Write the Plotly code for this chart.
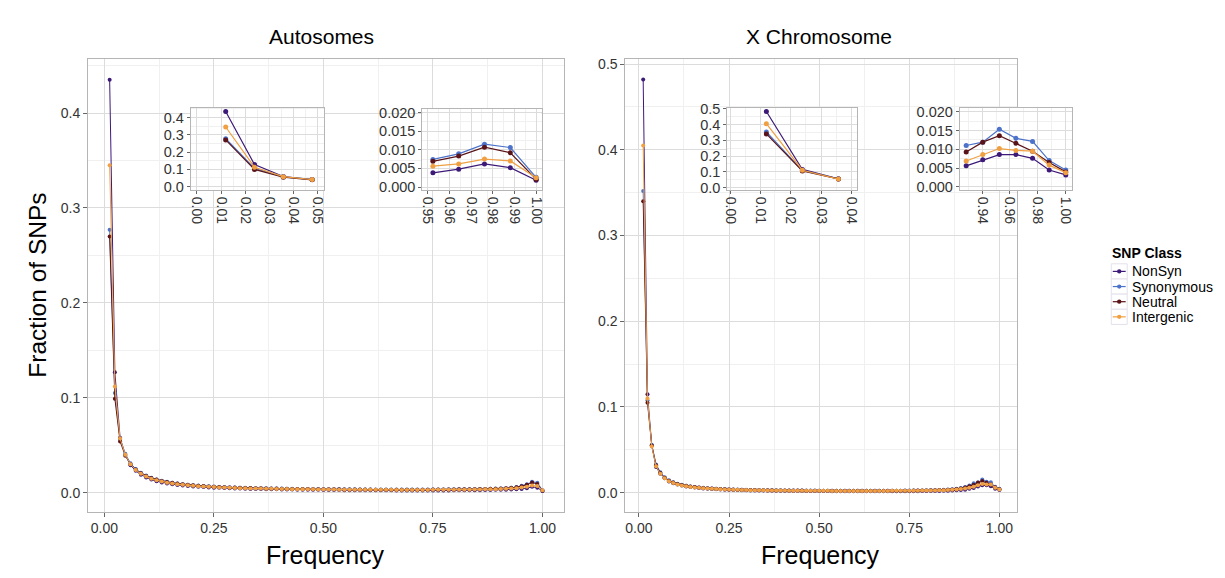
import plotly.graph_objects as go

# ---------------- data ----------------
n_chrom = 84
freq = [k / n_chrom for k in range(1, n_chrom + 1)]
classes = ["NonSyn", "Synonymous", "Neutral", "Intergenic"]
class_colors = ["#3D1A78", "#4C72C9", "#5A1419", "#F0A043"]

auto_nonsyn = [0.435, 0.127, 0.058, 0.040, 0.029, 0.023, 0.019, 0.016, 0.0138, 0.0121,
               0.0108, 0.0097, 0.0089, 0.0082, 0.0076, 0.0071, 0.0066, 0.0062, 0.0059, 0.0056,
               0.0053, 0.0051, 0.0049, 0.0047, 0.0045, 0.0043, 0.0042, 0.0040, 0.0039, 0.0038,
               0.0037, 0.0036, 0.0035, 0.0034, 0.0033, 0.0033, 0.0032, 0.0031, 0.0031, 0.0030,
               0.0030, 0.0029, 0.0029, 0.0028, 0.0028, 0.0027, 0.0027, 0.0027, 0.0026, 0.0026,
               0.0026, 0.0025, 0.0025, 0.0025, 0.0025, 0.0024, 0.0024, 0.0024, 0.0024, 0.0024,
               0.0024, 0.0023, 0.0024, 0.0024, 0.0024, 0.0024, 0.0025, 0.0025, 0.0025, 0.0026,
               0.0026, 0.0027, 0.0028, 0.0029, 0.0030, 0.0031, 0.0032, 0.0034, 0.0036, 0.0038,
               0.0048, 0.0062, 0.0052, 0.0018]
auto_syn = [0.277, 0.105, 0.056, 0.041, 0.031, 0.025, 0.021, 0.018, 0.0158, 0.0140,
            0.0126, 0.0114, 0.0105, 0.0097, 0.0090, 0.0084, 0.0079, 0.0075, 0.0071, 0.0067,
            0.0064, 0.0061, 0.0059, 0.0057, 0.0055, 0.0053, 0.0051, 0.0050, 0.0048, 0.0047,
            0.0046, 0.0045, 0.0044, 0.0043, 0.0042, 0.0041, 0.0040, 0.0040, 0.0039, 0.0038,
            0.0038, 0.0037, 0.0037, 0.0036, 0.0036, 0.0035, 0.0035, 0.0035, 0.0034, 0.0034,
            0.0034, 0.0033, 0.0033, 0.0033, 0.0033, 0.0033, 0.0033, 0.0033, 0.0033, 0.0033,
            0.0033, 0.0033, 0.0034, 0.0034, 0.0034, 0.0035, 0.0035, 0.0036, 0.0036, 0.0037,
            0.0038, 0.0039, 0.0040, 0.0042, 0.0043, 0.0045, 0.0048, 0.0052, 0.0059, 0.0074,
            0.0089, 0.0115, 0.0106, 0.0026]
auto_neutral = [0.270, 0.099, 0.054, 0.039, 0.030, 0.0245, 0.0205, 0.0176, 0.0155, 0.0138,
                0.0124, 0.0113, 0.0104, 0.0096, 0.0089, 0.0083, 0.0078, 0.0074, 0.0070, 0.0066,
                0.0063, 0.0060, 0.0058, 0.0056, 0.0054, 0.0052, 0.0050, 0.0049, 0.0047, 0.0046,
                0.0045, 0.0044, 0.0043, 0.0042, 0.0041, 0.0040, 0.0039, 0.0039, 0.0038, 0.0037,
                0.0037, 0.0036, 0.0036, 0.0035, 0.0035, 0.0034, 0.0034, 0.0034, 0.0033, 0.0033,
                0.0033, 0.0032, 0.0032, 0.0032, 0.0032, 0.0032, 0.0032, 0.0032, 0.0032, 0.0032,
                0.0032, 0.0032, 0.0033, 0.0033, 0.0033, 0.0034, 0.0034, 0.0035, 0.0035, 0.0036,
                0.0037, 0.0038, 0.0039, 0.0041, 0.0042, 0.0044, 0.0047, 0.0051, 0.0057, 0.0069,
                0.0083, 0.0107, 0.0092, 0.0021]
auto_intergenic = [0.345, 0.112, 0.057, 0.040, 0.030, 0.024, 0.020, 0.017, 0.0148, 0.0131,
                   0.0117, 0.0106, 0.0097, 0.0090, 0.0083, 0.0078, 0.0073, 0.0069, 0.0065, 0.0062,
                   0.0059, 0.0056, 0.0054, 0.0052, 0.0050, 0.0048, 0.0047, 0.0045, 0.0044, 0.0043,
                   0.0042, 0.0041, 0.0040, 0.0039, 0.0038, 0.0037, 0.0037, 0.0036, 0.0035, 0.0035,
                   0.0034, 0.0034, 0.0033, 0.0033, 0.0032, 0.0032, 0.0032, 0.0031, 0.0031, 0.0031,
                   0.0030, 0.0030, 0.0030, 0.0030, 0.0030, 0.0029, 0.0029, 0.0029, 0.0029, 0.0029,
                   0.0029, 0.0029, 0.0030, 0.0030, 0.0030, 0.0030, 0.0031, 0.0031, 0.0032, 0.0032,
                   0.0033, 0.0034, 0.0035, 0.0036, 0.0037, 0.0039, 0.0041, 0.0044, 0.0048, 0.0056,
                   0.0062, 0.0075, 0.0070, 0.0025]

x_nonsyn = [0.482, 0.115, 0.055, 0.030, 0.022, 0.017, 0.013, 0.011, 0.0095, 0.0083,
            0.0074, 0.0066, 0.0060, 0.0055, 0.0050, 0.0046, 0.0043, 0.0040, 0.0038, 0.0036,
            0.0034, 0.0032, 0.0031, 0.0030, 0.0028, 0.0027, 0.0026, 0.0025, 0.0025, 0.0024,
            0.0023, 0.0023, 0.0022, 0.0022, 0.0021, 0.0021, 0.0021, 0.0020, 0.0020, 0.0020,
            0.0019, 0.0019, 0.0019, 0.0019, 0.0018, 0.0018, 0.0018, 0.0018, 0.0018, 0.0017,
            0.0017, 0.0017, 0.0017, 0.0017, 0.0017, 0.0017, 0.0017, 0.0017, 0.0017, 0.0017,
            0.0017, 0.0018, 0.0018, 0.0018, 0.0018, 0.0019, 0.0019, 0.0020, 0.0020, 0.0021,
            0.0022, 0.0023, 0.0025, 0.0028, 0.0031, 0.0036, 0.0045, 0.0056, 0.0072, 0.0086,
            0.0086, 0.0076, 0.0045, 0.0032]
x_syn = [0.352, 0.108, 0.056, 0.033, 0.024, 0.018, 0.0145, 0.0122, 0.0105, 0.0092,
         0.0082, 0.0074, 0.0067, 0.0062, 0.0057, 0.0053, 0.0049, 0.0046, 0.0044, 0.0042,
         0.0040, 0.0038, 0.0037, 0.0035, 0.0034, 0.0033, 0.0032, 0.0031, 0.0030, 0.0030,
         0.0029, 0.0028, 0.0028, 0.0027, 0.0027, 0.0026, 0.0026, 0.0026, 0.0025, 0.0025,
         0.0025, 0.0024, 0.0024, 0.0024, 0.0024, 0.0023, 0.0023, 0.0023, 0.0023, 0.0023,
         0.0023, 0.0023, 0.0023, 0.0023, 0.0023, 0.0023, 0.0023, 0.0023, 0.0024, 0.0024,
         0.0024, 0.0025, 0.0025, 0.0026, 0.0026, 0.0027, 0.0028, 0.0029, 0.0030, 0.0032,
         0.0034, 0.0037, 0.0041, 0.0047, 0.0055, 0.0066, 0.0085, 0.0110, 0.0119, 0.0153,
         0.0129, 0.0121, 0.0070, 0.0045]
x_neutral = [0.340, 0.105, 0.055, 0.032, 0.023, 0.0175, 0.0140, 0.0118, 0.0102, 0.0090,
             0.0080, 0.0072, 0.0066, 0.0061, 0.0056, 0.0052, 0.0048, 0.0045, 0.0043, 0.0041,
             0.0039, 0.0037, 0.0036, 0.0034, 0.0033, 0.0032, 0.0031, 0.0030, 0.0029, 0.0029,
             0.0028, 0.0027, 0.0027, 0.0026, 0.0026, 0.0025, 0.0025, 0.0025, 0.0024, 0.0024,
             0.0024, 0.0023, 0.0023, 0.0023, 0.0023, 0.0022, 0.0022, 0.0022, 0.0022, 0.0022,
             0.0022, 0.0022, 0.0022, 0.0022, 0.0022, 0.0022, 0.0022, 0.0022, 0.0023, 0.0023,
             0.0023, 0.0024, 0.0024, 0.0025, 0.0025, 0.0026, 0.0027, 0.0028, 0.0029, 0.0031,
             0.0033, 0.0035, 0.0039, 0.0044, 0.0050, 0.0060, 0.0076, 0.0093, 0.0119, 0.0136,
             0.0116, 0.0095, 0.0065, 0.0040]
x_intergenic = [0.405, 0.110, 0.054, 0.031, 0.022, 0.0168, 0.0134, 0.0112, 0.0097, 0.0085,
                0.0076, 0.0068, 0.0062, 0.0057, 0.0053, 0.0049, 0.0046, 0.0043, 0.0041, 0.0039,
                0.0037, 0.0035, 0.0034, 0.0032, 0.0031, 0.0030, 0.0029, 0.0028, 0.0028, 0.0027,
                0.0026, 0.0026, 0.0025, 0.0025, 0.0024, 0.0024, 0.0024, 0.0023, 0.0023, 0.0023,
                0.0022, 0.0022, 0.0022, 0.0022, 0.0021, 0.0021, 0.0021, 0.0021, 0.0021, 0.0021,
                0.0021, 0.0021, 0.0021, 0.0021, 0.0021, 0.0021, 0.0021, 0.0021, 0.0022, 0.0022,
                0.0022, 0.0023, 0.0023, 0.0023, 0.0024, 0.0025, 0.0025, 0.0026, 0.0027, 0.0029,
                0.0030, 0.0032, 0.0035, 0.0039, 0.0044, 0.0050, 0.0059, 0.0069, 0.0086, 0.0102,
                0.0097, 0.0095, 0.0058, 0.0038]

autosome_series = [auto_nonsyn, auto_syn, auto_neutral, auto_intergenic]
xchrom_series = [x_nonsyn, x_syn, x_neutral, x_intergenic]

# ---------------- layout helpers ----------------
W, H = 1225, 578
FONT = "Liberation Sans, Arial, Helvetica, sans-serif"
GRID = "#DCDCDC"
MINOR = "#F0F0F0"
BORDER = "#B5B5B5"
TICKC = "#333333"


def dx(a, b):
    return [a / W, b / W]


def dy(top, bottom):
    return [1 - bottom / H, 1 - top / H]


def px(x):
    return x / W


def py(y):
    return 1 - y / H


fig = go.Figure()


def add_panel(series, xa, ya, xlim=None, size=4, width=1.0):
    for name, col, vals in zip(classes, class_colors, series):
        if xlim is None:
            xs, ys = freq, vals
        else:
            pts = [(f, v) for f, v in zip(freq, vals) if xlim[0] <= f <= xlim[1] + 1e-9]
            xs = [p[0] for p in pts]
            ys = [p[1] for p in pts]
        fig.add_trace(go.Scatter(
            x=xs, y=ys, mode="lines+markers", name=name,
            xaxis=xa, yaxis=ya, showlegend=False,
            line=dict(color=col, width=width),
            marker=dict(color=col, size=size),
        ))


# main panels
add_panel(autosome_series, "x", "y")
add_panel(xchrom_series, "x2", "y2")
# insets
add_panel(autosome_series, "x3", "y3", xlim=(0.0, 0.05), size=5, width=1.2)
add_panel(autosome_series, "x4", "y4", xlim=(0.95, 1.0), size=5, width=1.2)
add_panel(xchrom_series, "x5", "y5", xlim=(0.0, 0.04), size=5, width=1.2)
add_panel(xchrom_series, "x6", "y6", xlim=(0.925, 1.0), size=5, width=1.2)


def axis(domain, anchor, rng, dtick, tick0, fmt, minor_dtick, fsize=14,
         tickangle=None, ticklen=4):
    d = dict(domain=domain, anchor=anchor, range=rng, tickmode="linear",
             tick0=tick0, dtick=dtick, tickformat=fmt,
             showgrid=True, gridcolor=GRID, gridwidth=1,
             zeroline=False, showline=True, mirror=True, linecolor=BORDER,
             linewidth=1, ticks="outside", ticklen=ticklen, tickcolor="#666666",
             tickfont=dict(family=FONT, size=fsize, color=TICKC),
             minor=dict(dtick=minor_dtick, showgrid=True, gridcolor=MINOR,
                        ticks=""),
             fixedrange=True)
    if tickangle is not None:
        d["tickangle"] = tickangle
    return d


layout = dict(
    width=W, height=H, margin=dict(l=0, r=0, t=0, b=0),
    paper_bgcolor="white", plot_bgcolor="white",
    font=dict(family=FONT, color="#000000"),
    showlegend=False,
)

# main axes
layout["xaxis"] = axis(dx(75.5, 554.6), "y", [-0.0375, 1.049], 0.25, 0, ".2f", 0.125)
layout["yaxis"] = axis(dy(45, 508), "x", [-0.0199, 0.457], 0.1, 0, ".1f", 0.05)
layout["xaxis2"] = axis(dx(616.4, 1010.7), "y2", [-0.0375, 1.049], 0.25, 0, ".2f", 0.125)
layout["yaxis2"] = axis(dy(45, 508), "x2", [-0.022, 0.506], 0.1, 0, ".1f", 0.05)

# inset axes
layout["xaxis3"] = axis(dx(179, 313), "y3", [-0.0025, 0.0525], 0.01, 0, ".2f", 0.005,
                        fsize=14, tickangle=90, ticklen=3)
layout["yaxis3"] = axis(dy(95, 179), "x3", [-0.02, 0.456], 0.1, 0, ".1f", 0.05,
                        fsize=14.5, ticklen=3)
layout["xaxis4"] = axis(dx(412, 532), "y4", [0.9475, 1.0025], 0.01, 0.95, ".2f", 0.005,
                        fsize=14, tickangle=90, ticklen=3)
layout["yaxis4"] = axis(dy(96, 179), "x4", [-0.0008, 0.021], 0.005, 0, ".3f", 0.0025,
                        fsize=14.5, ticklen=3)
layout["xaxis5"] = axis(dx(719, 850), "y5", [-0.001, 0.042], 0.01, 0, ".2f", 0.005,
                        fsize=14, tickangle=90, ticklen=3)
layout["yaxis5"] = axis(dy(95, 179), "x5", [-0.015, 0.505], 0.1, 0, ".1f", 0.05,
                        fsize=14.5, ticklen=3)
layout["xaxis6"] = axis(dx(953, 1066), "y6", [0.924, 1.0045], 0.02, 0.94, ".2f", 0.01,
                        fsize=14, tickangle=90, ticklen=3)
layout["yaxis6"] = axis(dy(95, 179), "x6", [-0.0008, 0.021], 0.005, 0, ".3f", 0.0025,
                        fsize=14.5, ticklen=3)

fig.update_layout(**layout)

annots = [
    dict(text="Autosomes", x=px(311), y=py(22), size=21, angle=0),
    dict(text="X Chromosome", x=px(811), y=py(22), size=21, angle=0),
    dict(text="Frequency", x=px(315), y=py(552), size=25, angle=0),
    dict(text="Frequency", x=px(813), y=py(552), size=25, angle=0),
    dict(text="Fraction of SNPs", x=px(25), y=py(276), size=24.5, angle=-90),
]
for a in annots:
    fig.add_annotation(text=a["text"], x=a["x"], y=a["y"], xref="paper", yref="paper",
                       xanchor="center", yanchor="middle", showarrow=False,
                       textangle=a["angle"],
                       font=dict(family=FONT, size=a["size"], color="#000000"))

# ---------------- legend (drawn manually, ggplot style) ----------------
leg_x0, leg_x1 = 1105.5, 1121.5
row0, row_h = 262.3, 15.5
fig.add_annotation(text="<b>SNP Class</b>", x=px(leg_x0 - 1), y=py(243.5), xref="paper",
                   yref="paper", xanchor="left", yanchor="middle", showarrow=False,
                   font=dict(family=FONT, size=14, color="#000000"))
for i, (name, col) in enumerate(zip(classes, class_colors)):
    yc = row0 + i * row_h
    fig.add_shape(type="rect", xref="paper", yref="paper",
                  x0=px(leg_x0), x1=px(leg_x1), y0=py(yc + row_h / 2), y1=py(yc - row_h / 2),
                  line=dict(color="#E3E0EA", width=1), fillcolor="white", layer="above")
    fig.add_shape(type="line", xref="paper", yref="paper",
                  x0=px(leg_x0 + 1.5), x1=px(leg_x1 - 1.5), y0=py(yc), y1=py(yc),
                  line=dict(color=col, width=1.2), layer="above")
    fig.add_shape(type="circle", xref="paper", yref="paper",
                  x0=px((leg_x0 + leg_x1) / 2 - 2.2), x1=px((leg_x0 + leg_x1) / 2 + 2.2),
                  y0=py(yc + 2.2), y1=py(yc - 2.2),
                  line=dict(color=col, width=0), fillcolor=col, layer="above")
    fig.add_annotation(text=name, x=px(leg_x1 + 3), y=py(yc), xref="paper", yref="paper",
                       xanchor="left", yanchor="middle", showarrow=False,
                       font=dict(family=FONT, size=14, color="#000000"))

fig.write_html("out.html")
